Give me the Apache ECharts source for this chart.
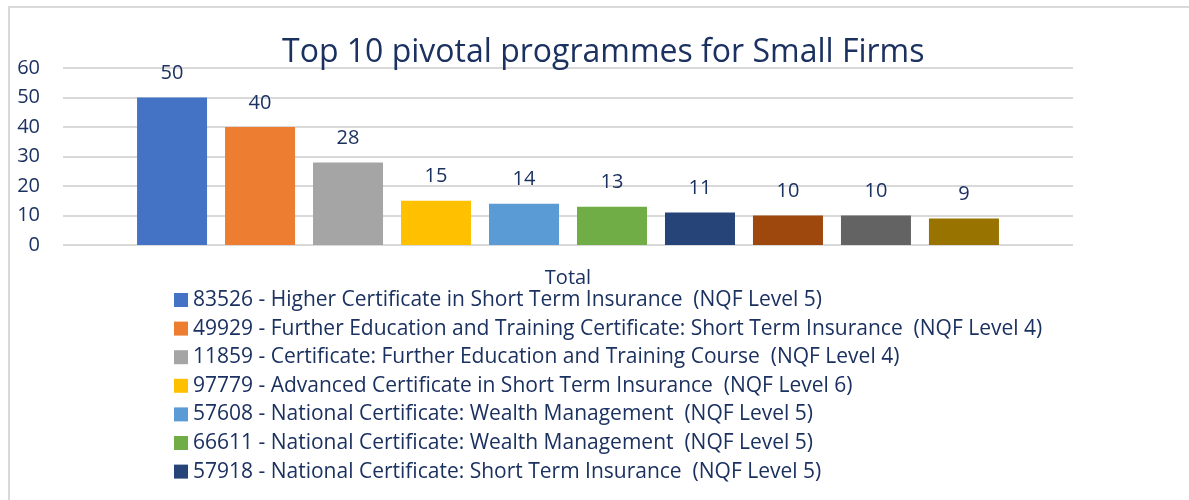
<!DOCTYPE html>
<html>
<head>
<meta charset="utf-8">
<title>Top 10 pivotal programmes for Small Firms</title>
<script src="https://cdn.jsdelivr.net/npm/echarts@6/dist/echarts.min.js"></script>
<style>
  html, body { margin: 0; padding: 0; background: #ffffff; }
  #chart { width: 1189px; height: 500px; }
</style>
</head>
<body>
<div id="chart"></div>
<script>
// Programme names (one bar per programme, all in the single "Total" category)
const programmes = [
  '83526 - Higher Certificate in Short Term Insurance  (NQF Level 5)',
  '49929 - Further Education and Training Certificate: Short Term Insurance  (NQF Level 4)',
  '11859 - Certificate: Further Education and Training Course  (NQF Level 4)',
  '97779 - Advanced Certificate in Short Term Insurance  (NQF Level 6)',
  '57608 - National Certificate: Wealth Management  (NQF Level 5)',
  '66611 - National Certificate: Wealth Management  (NQF Level 5)',
  '57918 - National Certificate: Short Term Insurance  (NQF Level 5)',
  'Programme 8',
  'Programme 9',
  'Programme 10'
];
// Number of small firms selecting each programme
const counts = [50, 40, 28, 15, 14, 13, 11, 10, 10, 9];
const categories = ['Total'];
const yTicks = { min: 0, max: 60, interval: 10 };
// Only the first seven programmes fit in the legend box
const legendShown = programmes.slice(0, 7);

const palette = ['#4472C4', '#ED7D31', '#A5A5A5', '#FFC000', '#5B9BD5',
                 '#70AD47', '#264478', '#9E480E', '#636363', '#997300'];
const navy = '#1B3160';
const font = '"Open Sans", "Noto Sans", sans-serif';

const chart = echarts.init(document.getElementById('chart'), null, { renderer: 'canvas' });

const series = programmes.map((name, i) => ({
  name: name,
  type: 'bar',
  data: [counts[i]],
  barWidth: 70,
  barGap: '25.7%',
  itemStyle: { color: palette[i] },
  label: {
    show: true,
    position: 'top',
    distance: 14,
    color: navy,
    fontFamily: font,
    fontSize: 20
  }
}));

chart.setOption({
  animation: false,
  backgroundColor: '#ffffff',
  graphic: [
    {
      type: 'rect',
      shape: { x: 9, y: 7, width: 1400, height: 700 },
      style: { fill: 'none', stroke: '#D9D9D9', lineWidth: 2 },
      silent: true
    },
    {
      type: 'text',
      left: 4,
      top: -16,
      style: {
        text: "Figure 36: Employers' top 10 pivotal programmes for small employers",
        fill: '#2F5496',
        font: '15px ' + font
      },
      silent: true
    }
  ],
  title: {
    text: 'Top 10 pivotal programmes for Small Firms',
    left: 277,
    top: 32,
    textStyle: {
      color: navy,
      fontFamily: font,
      fontWeight: 'normal',
      fontSize: 32
    }
  },
  legend: {
    orient: 'vertical',
    left: 169,
    top: 284,
    data: legendShown,
    icon: 'rect',
    itemWidth: 14,
    itemHeight: 14,
    itemGap: 6.6,
    selectedMode: false,
    textStyle: {
      color: navy,
      fontFamily: font,
      fontSize: 21,
      lineHeight: 22
    }
  },
  grid: {
    left: 63,
    right: 116,
    top: 68,
    bottom: 255,
    containLabel: false
  },
  xAxis: {
    type: 'category',
    data: categories,
    axisLine: { show: false },
    axisTick: { show: false },
    axisLabel: {
      color: navy,
      fontFamily: font,
      fontSize: 20,
      margin: 23
    }
  },
  yAxis: {
    type: 'value',
    min: yTicks.min,
    max: yTicks.max,
    interval: yTicks.interval,
    axisLine: { show: false },
    axisTick: { show: false },
    splitLine: { lineStyle: { color: '#D9D9D9', width: 2 } },
    axisLabel: {
      color: navy,
      fontFamily: font,
      fontSize: 20,
      margin: 23
    }
  },
  series: series
});
</script>
</body>
</html>
